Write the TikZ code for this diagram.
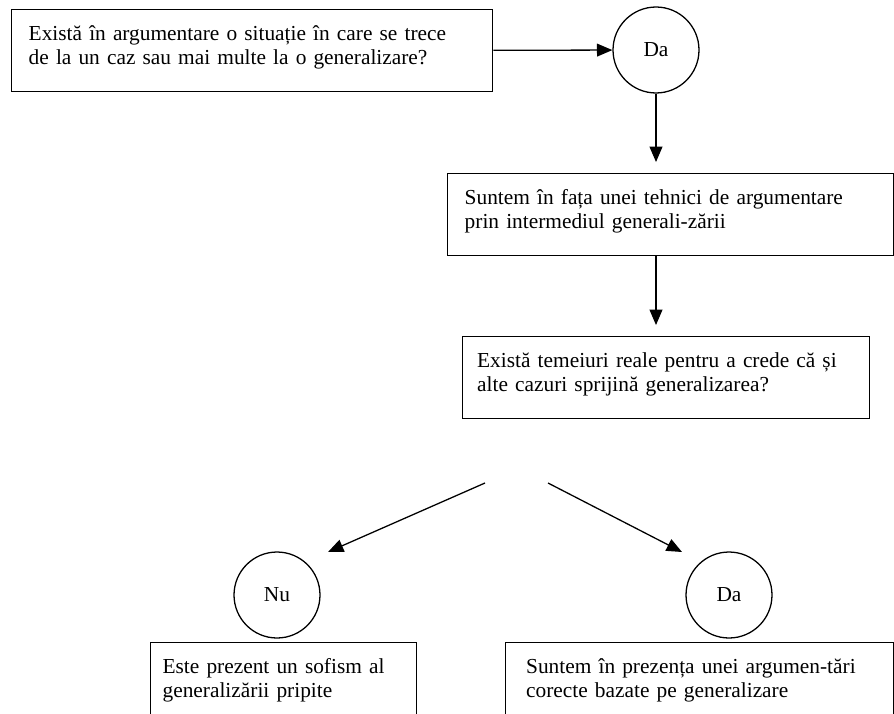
\documentclass[tikz,border=0pt]{standalone}
\usepackage{fontspec}
\setmainfont{Liberation Serif}
\usetikzlibrary{arrows.meta}

\begin{document}
\begin{tikzpicture}[x=0.585pt,y=-0.585pt,line width=0.75pt,
    qbox/.style={draw,rectangle,anchor=north west,align=left,inner xsep=10pt,inner ysep=8pt,
      text height=10pt,text depth=22pt,font=\fontsize{12.5}{14.3}\selectfont},
    ans/.style={draw,circle,minimum size=50.3pt,inner sep=0pt,font=\fontsize{12.5}{14.3}\selectfont},
    arr/.style={-{Triangle[length=9pt,width=7.5pt]}}]
  \path[use as bounding box,clip] (0,0) rectangle (894,713);

  % intrebari si raspunsuri
  \node[qbox,text width=261.4pt] (q1) at (11,9) {Există în argumentare o situație în care se trece\\de la un caz sau mai multe la o generalizare?};
  \node[ans] (d1) at (656,50) {Da};
  \node[qbox,text width=240.9pt] (q2) at (447,173) {Suntem în fața unei tehnici de argumentare\\prin intermediul generali-zării};
  \node[qbox,inner xsep=8.5pt,text width=221.1pt] (q3) at (462,336) {Există temeiuri reale pentru a crede că și\\alte cazuri sprijină generalizarea?};
  \node[ans] (nu) at (277,595) {Nu};
  \node[ans] (d2) at (729,595) {Da};
  \node[qbox,inner xsep=7pt,text width=141.6pt] (r1) at (150,642) {Este prezent un sofism al\\generalizării pripite};
  \node[qbox,inner xsep=12pt,text width=203pt] (r2) at (505,642) {\makebox[\linewidth][s]{Suntem în prezența unei argumen-tări}\\corecte bazate pe generalizare};

  % capetele sagetilor oblice
  \coordinate (s1) at (485,483);
  \coordinate (t1) at (328,552);
  \coordinate (s2) at (548,483);
  \coordinate (t2) at (682,552);

  \draw[arr] (q1) -- (d1);
  \draw[arr,shorten >=6.4pt] (d1.south) -- (d1.south |- q2.north);
  \draw[arr,shorten >=6.4pt] (q2.south -| d1.south) -- (q3.north -| d1.south);
  \draw[arr] (s1) -- (t1);
  \draw[arr] (s2) -- (t2);
\end{tikzpicture}
\end{document}
